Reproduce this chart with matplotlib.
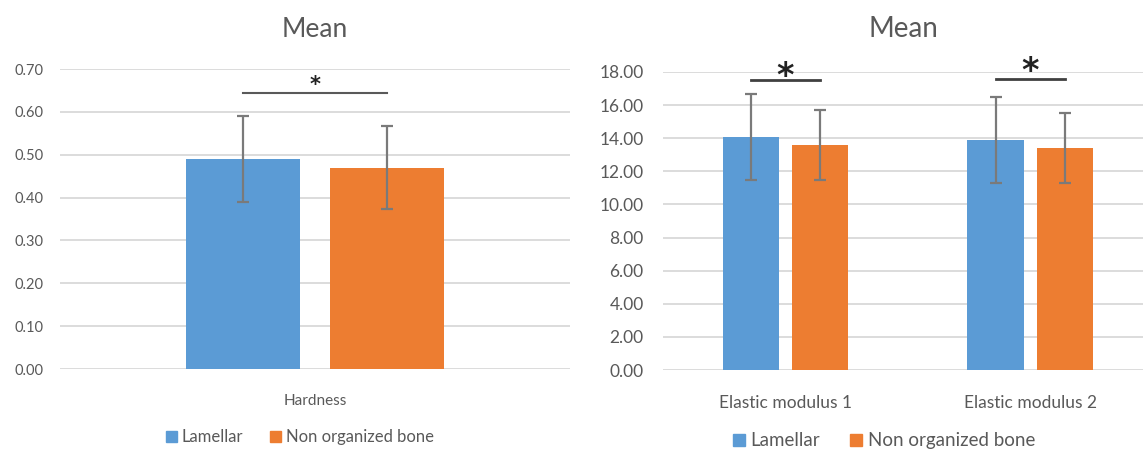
import matplotlib
matplotlib.use("Agg")
import matplotlib.pyplot as plt
import numpy as np
from matplotlib.patches import Patch

plt.rcParams['font.family'] = ['Lato', 'DejaVu Sans']

series = ["Lamellar", "Non organized bone"]
colors = ["#5B9BD5", "#ED7D31"]

# left chart
hard_cats = ["Hardness"]
hard_lam = [0.49]
hard_non = [0.47]
hard_lam_err = [0.10]
hard_non_err = [0.097]

# right chart
em_cats = ["Elastic modulus 1", "Elastic modulus 2"]
em_lam = [14.10, 13.90]
em_non = [13.60, 13.40]
em_lam_err = [2.60, 2.60]
em_non_err = [2.10, 2.10]

text_col = "#595959"
grid_col = "#d9d9d9"
err_col = "#7a7a7a"

fig = plt.figure(figsize=(11.43, 4.51), dpi=100)


def style_axes(ax, ylim, step, fmt, tsize, pad):
    ax.set_ylim(*ylim)
    ax.set_yticks(np.arange(ylim[0], ylim[1] + step / 2, step))
    ax.yaxis.set_major_formatter(matplotlib.ticker.FormatStrFormatter(fmt))
    for s in ax.spines.values():
        s.set_visible(False)
    ax.grid(axis='y', color=grid_col, lw=1.3, zorder=0)
    ax.set_axisbelow(True)
    ax.tick_params(axis='both', length=0, colors=text_col, labelsize=tsize)
    ax.tick_params(axis='y', pad=pad)


def draw_bars(ax, cats, lam, non, lam_err, non_err, off, width, cat_size):
    x = np.arange(len(cats))
    ax.bar(x - off, lam, width, color=colors[0], zorder=2)
    ax.bar(x + off, non, width, color=colors[1], zorder=2)
    ax.errorbar(x - off, lam, yerr=lam_err, fmt='none', ecolor=err_col,
                elinewidth=1.6, capsize=4, capthick=1.6, zorder=3)
    ax.errorbar(x + off, non, yerr=non_err, fmt='none', ecolor=err_col,
                elinewidth=1.6, capsize=4, capthick=1.6, zorder=3)
    ax.set_xticks(x)
    ax.set_xticklabels(cats, fontsize=cat_size)
    ax.tick_params(axis='x', pad=18)


def legend(ax, anchor, size):
    handles = [Patch(color=c, label=s) for c, s in zip(colors, series)]
    ax.legend(handles=handles, loc='center', bbox_to_anchor=anchor, ncol=2,
              frameon=False, fontsize=size, labelcolor=text_col,
              handlelength=0.65, handleheight=0.65, handletextpad=0.3,
              columnspacing=1.6)


# ---- left panel
ax1 = fig.add_axes([0.0525, 0.1818, 0.4462, 0.6652])
style_axes(ax1, (0, 0.7), 0.1, '%.2f', 10.5, 12)
draw_bars(ax1, hard_cats, hard_lam, hard_non, hard_lam_err, hard_non_err,
          0.284, 0.447, 11)
ax1.set_xlim(-1, 1)
ax1.plot([-0.284, 0.284], [0.644, 0.644], color=text_col, lw=1.5, zorder=3)
ax1.text(0, 0.662, "*", ha='center', va='center', fontsize=15,
         fontweight='bold', family='DejaVu Sans', color='#222222')
ax1.set_title("Mean", fontsize=19, color=text_col, pad=23)
legend(ax1, (0.47, -0.227), 12)

# ---- right panel
ax2 = fig.add_axes([0.5801, 0.1796, 0.4199, 0.6608])
style_axes(ax2, (0, 18), 2, '%.2f', 12.5, 14)
draw_bars(ax2, em_cats, em_lam, em_non, em_lam_err, em_non_err,
          0.142, 0.23, 12.5)
ax2.set_xlim(-0.5, 1.46)
sig_y = [17.5, 17.55]
star_y = [17.75, 18.05]
for i in range(len(em_cats)):
    ax2.plot([i - 0.142, i + 0.142], [sig_y[i], sig_y[i]], color='#404040',
             lw=2, zorder=3)
    ax2.text(i, star_y[i], "*", ha='center', va='center', fontsize=24,
             fontweight='bold', family='DejaVu Sans', color='#222222',
             clip_on=False)
ax2.set_title("Mean", fontsize=20, color=text_col, pad=25)
legend(ax2, (0.46, -0.238), 13.5)

fig.savefig("out.png", dpi=100)
